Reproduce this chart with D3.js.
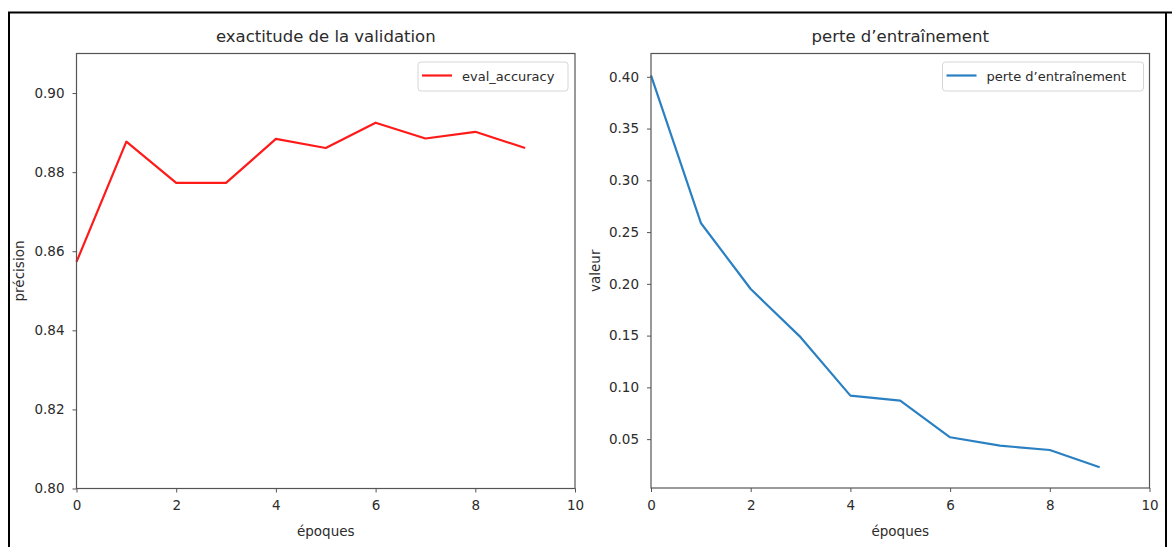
<!DOCTYPE html>
<html>
<head>
<meta charset="utf-8">
<script src="https://cdn.jsdelivr.net/npm/d3@7"></script>
<style>
  html, body { margin: 0; padding: 0; background: #fff; }
  svg { display: block; font-family: "DejaVu Sans", sans-serif; }
</style>
</head>
<body>
<svg id="fig" width="1172" height="547"></svg>
<script>
// Epoch index shared by both panels
const epochs = [0, 1, 2, 3, 4, 5, 6, 7, 8, 9];

// Validation accuracy per epoch
const evalAccuracy = [0.8573, 0.8877, 0.8773, 0.8773, 0.8884, 0.8861, 0.8925, 0.8885, 0.8902, 0.8861];

// Training loss per epoch
const trainLoss = [0.4013, 0.2588, 0.1950, 0.1485, 0.0920, 0.0872, 0.0518, 0.0437, 0.0395, 0.0228];

// Tick values
const xTicks = [0, 2, 4, 6, 8, 10];
const accTicks = [0.80, 0.82, 0.84, 0.86, 0.88, 0.90];
const lossTicks = [0.05, 0.10, 0.15, 0.20, 0.25, 0.30, 0.35, 0.40];

// Titles and labels
const titles = ["exactitude de la validation", "perte d\u2019entraînement"];
const yLabels = ["précision", "valeur"];
const xLabel = "époques";
const legendLabels = ["eval_accuracy", "perte d\u2019entraînement"];

const svg = d3.select("#fig");
const textColor = "#2b2b2b";
const spineColor = "#555";

// outer frame
svg.append("path")
  .attr("d", "M9,547 V12.5 H1172 M1166,12.5 V547")
  .attr("fill", "none").attr("stroke", "#000").attr("stroke-width", 2);

const panels = [
  {
    box: { left: 76.5, right: 575, top: 53.5, bottom: 488.5 },
    yDomain: [0.80, 0.91], yTicks: accTicks, values: evalAccuracy,
    color: "#ff1a1a", title: titles[0], yLabel: yLabels[0], legend: legendLabels[0],
    yLabelX: 20, legendBox: { x: 418, y: 62, w: 150, h: 29 }
  },
  {
    box: { left: 651, right: 1149.5, top: 53.5, bottom: 488 },
    yDomain: [0.0028, 0.4225], yTicks: lossTicks, values: trainLoss,
    color: "#2a80c2", title: titles[1], yLabel: yLabels[1], legend: legendLabels[1],
    yLabelX: 596, legendBox: { x: 942.5, y: 62, w: 201, h: 29 }
  }
];

panels.forEach(p => {
  const b = p.box;
  const x = d3.scaleLinear().domain([0, 10]).range([b.left, b.right]);
  const y = d3.scaleLinear().domain(p.yDomain).range([b.bottom, b.top]);
  const g = svg.append("g");

  // x axis
  const xa = g.append("g").attr("transform", `translate(0,${b.bottom})`)
    .call(d3.axisBottom(x).tickValues(xTicks).tickFormat(d3.format("d")).tickSize(4).tickPadding(8));
  // y axis
  const ya = g.append("g").attr("transform", `translate(${b.left},0)`)
    .call(d3.axisLeft(y).tickValues(p.yTicks).tickFormat(d3.format(".2f")).tickSize(4).tickPadding(8));
  [xa, ya].forEach(a => {
    a.select(".domain").remove();
    a.selectAll("line").attr("stroke", spineColor);
    a.selectAll("text").attr("fill", textColor).attr("font-size", 13.5)
      .attr("font-family", "DejaVu Sans, sans-serif");
  });

  // data line
  g.append("path")
    .datum(epochs.map((e, i) => [e, p.values[i]]))
    .attr("fill", "none").attr("stroke", p.color).attr("stroke-width", 2.2)
    .attr("stroke-linejoin", "round")
    .attr("d", d3.line().x(d => x(d[0])).y(d => y(d[1])));

  // spines
  g.append("rect")
    .attr("x", b.left).attr("y", b.top)
    .attr("width", b.right - b.left).attr("height", b.bottom - b.top)
    .attr("fill", "none").attr("stroke", spineColor).attr("stroke-width", 1.2);

  // title
  g.append("text").attr("x", (b.left + b.right) / 2).attr("y", 42)
    .attr("text-anchor", "middle").attr("font-size", 16.5).attr("fill", textColor)
    .text(p.title);

  // x label
  g.append("text").attr("x", (b.left + b.right) / 2).attr("y", 536)
    .attr("text-anchor", "middle").attr("font-size", 13.5).attr("fill", textColor)
    .text(xLabel);

  // y label
  const cy = (b.top + b.bottom) / 2;
  g.append("text")
    .attr("transform", `translate(${p.yLabelX + 4},${cy}) rotate(-90)`)
    .attr("text-anchor", "middle").attr("font-size", 13.5).attr("fill", textColor)
    .text(p.yLabel);

  // legend
  const lb = p.legendBox;
  g.append("rect").attr("x", lb.x).attr("y", lb.y).attr("width", lb.w).attr("height", lb.h)
    .attr("rx", 3).attr("fill", "#fff").attr("fill-opacity", 0.8)
    .attr("stroke", "#d6d6d6").attr("stroke-width", 1);
  g.append("line").attr("x1", lb.x + 4).attr("x2", lb.x + 34)
    .attr("y1", lb.y + lb.h / 2 - 1).attr("y2", lb.y + lb.h / 2 - 1)
    .attr("stroke", p.color).attr("stroke-width", 2.2);
  g.append("text").attr("x", lb.x + 44).attr("y", lb.y + lb.h / 2 + 4)
    .attr("font-size", 13).attr("fill", textColor).text(p.legend);
});
</script>
</body>
</html>
